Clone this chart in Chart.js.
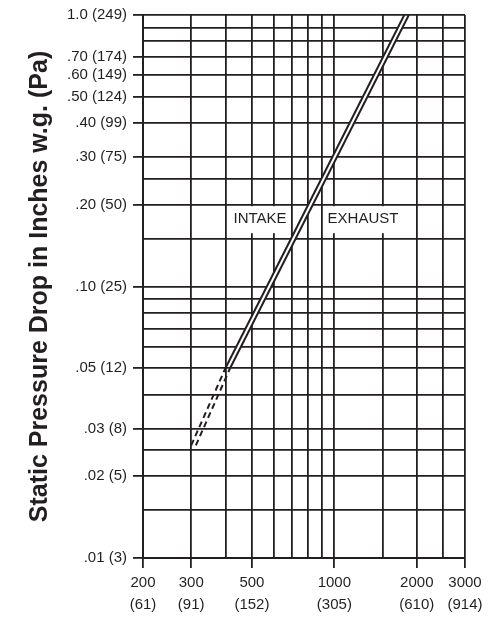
<!DOCTYPE html>
<html>
<head>
<meta charset="utf-8">
<script src="https://cdn.jsdelivr.net/npm/chart.js@4.4.0/dist/chart.umd.min.js"></script>
<style>
  html, body { margin: 0; padding: 0; background: #fff; }
</style>
</head>
<body>
<canvas id="grafico" width="492" height="619"></canvas>
<script>
// Caudal (CFM) contra caída de presión estática (pulgadas c.a.)
const intakeFlow = [400, 1800];
const intakePressure = [0.05, 1.0];
const exhaustFlow = [416, 1870];
const exhaustPressure = [0.05, 1.0];

// Tramo punteado (extrapolado)
const intakeDashFlow = [300, 400];
const intakeDashPressure = [0.026, 0.05];
const exhaustDashFlow = [312, 416];
const exhaustDashPressure = [0.026, 0.05];

// Líneas de la cuadrícula
const xGrid = [200, 300, 400, 500, 600, 700, 800, 900, 1000, 1500, 2000, 2500, 3000];
const yGrid = [0.01, 0.015, 0.02, 0.025, 0.03, 0.04, 0.05, 0.06, 0.07, 0.08, 0.09, 0.10,
               0.15, 0.20, 0.25, 0.30, 0.40, 0.50, 0.60, 0.70, 0.80, 0.90, 1.0];

// Etiquetas de los ejes
const xTickValues = [200, 300, 500, 1000, 2000, 3000];
const xTickLabels = [['200', '(61)'], ['300', '(91)'], ['500', '(152)'],
                     ['1000', '(305)'], ['2000', '(610)'], ['3000', '(914)']];
const yTickValues = [0.01, 0.02, 0.03, 0.05, 0.10, 0.20, 0.30, 0.40, 0.50, 0.60, 0.70, 1.0];
const yTickLabels = ['.01 (3)', '.02 (5)', '.03 (8)', '.05 (12)', '.10 (25)', '.20 (50)',
                     '.30 (75)', '.40 (99)', '.50 (124)', '.60 (149)', '.70 (174)', '1.0 (249)'];

// Rótulos dentro del gráfico
const rotulos = ['INTAKE', 'EXHAUST'];
const rotuloFlow = [535, 1272];
const rotuloPressure = [0.177, 0.177];

const tinta = '#231f20';
const fuente = '"Liberation Sans", Arial, sans-serif';

function indiceDe(lista, valor) {
    return lista.findIndex(function (v) {
        return Math.abs(v - valor) < 1e-9;
    });
}

function puntos(xs, ys) {
    return xs.map(function (x, i) {
        return { x: x, y: ys[i] };
    });
}

// Plugin para los rótulos con fondo blanco
const pluginRotulos = {
    id: 'rotulos',
    beforeDatasetsDraw: function (chart) {
        const ctx = chart.ctx;
        const sx = chart.scales.x;
        const sy = chart.scales.y;
        ctx.save();
        ctx.font = '15px ' + fuente;
        ctx.textAlign = 'center';
        ctx.textBaseline = 'middle';
        rotulos.forEach(function (texto, i) {
            const px = sx.getPixelForValue(rotuloFlow[i]);
            const py = sy.getPixelForValue(rotuloPressure[i]);
            const ancho = ctx.measureText(texto).width + 8;
            ctx.fillStyle = '#fff';
            ctx.fillRect(px - ancho / 2, py - 13, ancho, 27);
            ctx.fillStyle = tinta;
            ctx.fillText(texto, px, py);
        });
        ctx.restore();
    }
};

const lineaBase = {
    borderColor: tinta,
    borderWidth: 2,
    pointRadius: 0,
    tension: 0
};

const ctx = document.getElementById('grafico').getContext('2d');
const grafico = new Chart(ctx, {
    type: 'line',
    data: {
        datasets: [
            Object.assign({}, lineaBase, { label: 'Intake', data: puntos(intakeFlow, intakePressure), fill: false }),
            Object.assign({}, lineaBase, { label: 'Exhaust', data: puntos(exhaustFlow, exhaustPressure), fill: '-1', backgroundColor: '#fff' }),
            Object.assign({}, lineaBase, { label: 'Intake (ext.)', data: puntos(intakeDashFlow, intakeDashPressure), borderDash: [6, 4], fill: false }),
            Object.assign({}, lineaBase, { label: 'Exhaust (ext.)', data: puntos(exhaustDashFlow, exhaustDashPressure), borderDash: [6, 4], fill: false })
        ]
    },
    options: {
        responsive: false,
        animation: false,
        layout: { padding: { left: 0, top: 10, right: 27, bottom: 0 } },
        plugins: {
            legend: { display: false },
            tooltip: { enabled: false },
            filler: { drawTime: 'beforeDatasetsDraw' }
        },
        scales: {
            x: {
                type: 'logarithmic',
                min: 200,
                max: 3000,
                afterBuildTicks: function (scale) {
                    scale.ticks = xGrid.map(function (v) { return { value: v }; });
                },
                afterFit: function (scale) {
                    scale.height = 61;
                },
                ticks: {
                    autoSkip: false,
                    maxRotation: 0,
                    padding: 4,
                    color: tinta,
                    font: { family: fuente, size: 15, lineHeight: 1.45 },
                    callback: function (valor) {
                        const i = indiceDe(xTickValues, valor);
                        return i >= 0 ? xTickLabels[i] : '';
                    }
                },
                grid: {
                    color: tinta,
                    lineWidth: 1.8,
                    tickLength: 10,
                    tickWidth: 1.8,
                    tickColor: function (c) {
                        return c.tick && indiceDe(xTickValues, c.tick.value) >= 0 ? tinta : 'rgba(0,0,0,0)';
                    }
                },
                border: { color: tinta, width: 2 }
            },
            y: {
                type: 'logarithmic',
                min: 0.01,
                max: 1.0,
                afterBuildTicks: function (scale) {
                    scale.ticks = yGrid.map(function (v) { return { value: v }; });
                },
                afterFit: function (scale) {
                    scale.width = 143;
                },
                ticks: {
                    autoSkip: false,
                    padding: 6,
                    color: tinta,
                    font: { family: fuente, size: 15 },
                    callback: function (valor) {
                        const i = indiceDe(yTickValues, valor);
                        return i >= 0 ? yTickLabels[i] : '';
                    }
                },
                grid: {
                    color: tinta,
                    lineWidth: 1.8,
                    tickLength: 10,
                    tickWidth: 1.8,
                    tickColor: function (c) {
                        return c.tick && indiceDe(yTickValues, c.tick.value) >= 0 ? tinta : 'rgba(0,0,0,0)';
                    }
                },
                border: { color: tinta, width: 2 },
                title: {
                    display: true,
                    text: 'Static Pressure Drop in Inches w.g. (Pa)',
                    color: tinta,
                    padding: { top: 25, bottom: 0 },
                    font: { family: fuente, size: 25, weight: 'bold' }
                }
            }
        }
    },
    plugins: [pluginRotulos]
});
</script>
</body>
</html>
